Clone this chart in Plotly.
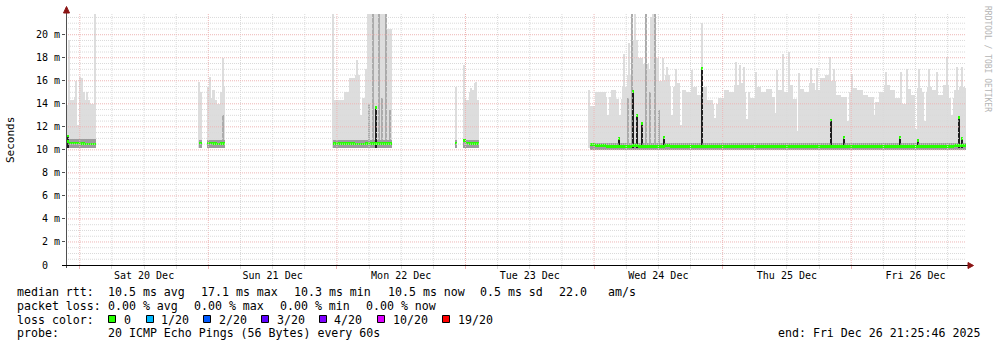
import pandas as pd
import numpy as np
import plotly.graph_objects as go

# ---------------- data ----------------
T_START = "2025-12-19 21:25:46"
T_END = "2025-12-26 21:25:46"

# data segments (periods where the target answered)
seg_start = ["2025-12-19 21:00", "2025-12-20 22:10", "2025-12-20 23:40",
             "2025-12-21 23:20", "2025-12-22 22:05", "2025-12-22 23:35",
             "2025-12-23 23:10"]
seg_bin_min = [60, 35, 30, 60, 20, 30, 60]
seg_low = [10.15, 10.2, 10.15, 10.15, 10.2, 10.15, 9.95]   # fastest ping (ms)
seg_dense = [10.95, 10.85, 10.85, 10.85, 10.85, 10.85, 10.6]  # upper edge of dense smoke (ms)

# upper edge of the smoke (slowest ping, ms) per bin
seg_level = [
    [13.9, 14.3, 14.6, 15.0, 14.3, 14.0],
    [15.0],
    [15.5, 14.5, 15.2, 14.3, 14.0, 15.0, 15.5],
    [14.3, 14.3, 15.0, 16.2, 16.5, 14.5, 17.0, 21.8, 21.8, 21.8, 20.5],
    [15.5],
    [14.5, 14.3, 15.0, 15.2, 15.8, 14.3],
    [13.8, 15.0, 15.0, 14.6, 15.2, 14.4, 15.5, 16.5, 19.5, 18.0,
     17.5, 17.0, 18.0, 16.0, 16.5, 15.5, 15.8, 15.2, 15.0, 15.5,
     14.8, 15.5, 14.3, 14.0, 14.5, 15.2, 15.0, 15.6, 15.8, 15.0,
     14.5, 15.5, 15.0, 15.3, 14.6, 15.2, 15.0, 15.6, 14.4, 15.3,
     15.0, 15.8, 15.2, 16.2, 16.5, 16.0, 14.8, 14.6, 15.0, 15.4,
     15.2, 14.8, 14.6, 14.2, 15.0, 15.6, 15.2, 14.5, 14.0, 15.3,
     14.8, 15.4, 15.0, 15.5, 15.2, 14.8, 15.6, 14.5, 15.2, 15.5,
     15.4],
]

# median rtt (ms) per bin
seg_median = [
    [10.75, 10.6, 10.6, 10.55, 10.5, 10.5],
    [10.6],
    [10.6, 10.6, 10.55, 10.55, 10.5, 10.55, 10.55],
    [10.55, 10.55, 10.55, 10.55, 10.5, 10.5, 10.55, 10.55, 10.55, 10.55, 10.55],
    [10.6],
    [10.8, 10.6, 10.55, 10.55, 10.55, 10.55],
    [10.45, 10.4, 10.35, 10.3, 10.3, 10.3, 10.3, 10.3, 10.35, 10.3,
     10.3, 10.3, 10.3, 10.3, 10.35, 10.3, 10.3, 10.3, 10.3, 10.3,
     10.3, 10.3, 10.3, 10.3, 10.3, 10.3, 10.3, 10.3, 10.3, 10.3,
     10.3, 10.3, 10.3, 10.3, 10.3, 10.3, 10.3, 10.3, 10.3, 10.3,
     10.3, 10.3, 10.3, 10.3, 10.3, 10.3, 10.3, 10.3, 10.3, 10.3,
     10.3, 10.3, 10.3, 10.3, 10.3, 10.3, 10.3, 10.3, 10.3, 10.3,
     10.3, 10.3, 10.3, 10.3, 10.3, 10.3, 10.3, 10.3, 10.35, 10.35,
     10.4],
]

# moments where the slowest ping was much faster (thin gaps in the smoke)
dip_time = ["2025-12-19 23:35", "2025-12-22 04:35", "2025-12-24 02:31", "2025-12-24 04:56",
            "2025-12-24 14:38", "2025-12-24 16:19", "2025-12-24 22:40", "2025-12-25 04:28",
            "2025-12-25 09:53", "2025-12-25 13:59", "2025-12-25 23:19", "2025-12-26 04:21",
            "2025-12-26 12:11", "2025-12-26 13:52", "2025-12-26 18:44"]
dip_value = [12.2, 13.0, 13.0, 13.0, 13.0, 12.2, 12.8, 12.7, 13.2, 11.6, 12.5, 13.0,
             11.8, 12.5, 13.0]

# single slow pings (thin light-grey smoke spikes)
spike_time = ["2025-12-19 22:05", "2025-12-19 23:23", "2025-12-20 00:08", "2025-12-20 00:31",
              "2025-12-20 01:26", "2025-12-20 02:56", "2025-12-20 22:21", "2025-12-21 00:24",
              "2025-12-21 02:44", "2025-12-21 23:22", "2025-12-22 03:40", "2025-12-22 05:54",
              "2025-12-22 06:16", "2025-12-22 23:49", "2025-12-23 01:07", "2025-12-23 02:03",
              "2025-12-23 23:09", "2025-12-24 05:41", "2025-12-24 06:37", "2025-12-24 07:11",
              "2025-12-24 07:44", "2025-12-24 09:47", "2025-12-24 10:43", "2025-12-24 11:06",
              "2025-12-24 11:28", "2025-12-24 12:58", "2025-12-24 13:43", "2025-12-24 15:13",
              "2025-12-24 18:23", "2025-12-24 20:15", "2025-12-25 02:35", "2025-12-25 03:20",
              "2025-12-25 04:05", "2025-12-25 06:19", "2025-12-25 10:15", "2025-12-25 11:22",
              "2025-12-25 12:29", "2025-12-25 14:21", "2025-12-25 16:35", "2025-12-25 17:43",
              "2025-12-25 20:08", "2025-12-25 20:53", "2025-12-26 00:04", "2025-12-26 06:35",
              "2025-12-26 09:23", "2025-12-26 10:31", "2025-12-26 12:45", "2025-12-26 14:37",
              "2025-12-26 16:07", "2025-12-26 17:59", "2025-12-26 19:51", "2025-12-26 20:47"]
spike_value = [19.5, 16.0, 16.3, 16.2, 15.0, 21.8, 15.9, 16.3,
               18.0, 21.8, 17.8, 21.8, 21.8, 17.4, 15.4, 15.9,
               15.2, 18.3, 19.3, 21.8, 21.8, 21.8, 21.5, 21.8,
               21.8, 18.0, 17.2, 17.0, 16.9, 21.0, 17.6, 17.4,
               17.2, 16.8, 16.9, 18.3, 18.5, 16.7, 17.1, 17.1,
               18.1, 17.0, 16.6, 16.8, 16.8, 17.0, 17.0, 17.0,
               16.8, 18.1, 17.2, 17.2]

# denser (darker) smoke columns
dense_time = ["2025-12-21 02:50", "2025-12-22 06:05", "2025-12-22 06:50", "2025-12-22 07:57",
              "2025-12-22 08:31", "2025-12-22 09:15", "2025-12-22 10:00", "2025-12-24 06:27",
              "2025-12-24 07:11", "2025-12-24 09:47", "2025-12-24 10:32", "2025-12-24 11:28",
              "2025-12-24 12:13"]
dense_value = [13.0, 14.0, 21.8, 21.8, 14.5, 21.8, 13.5, 14.5, 21.8, 21.8, 15.0, 21.8, 13.5]

# short median jumps
jump_time = ["2025-12-19 21:54", "2025-12-22 07:23", "2025-12-24 04:45", "2025-12-24 07:22",
             "2025-12-24 08:07", "2025-12-24 09:03", "2025-12-24 13:09", "2025-12-24 20:15",
             "2025-12-25 20:20", "2025-12-25 22:45", "2025-12-26 09:13", "2025-12-26 12:34",
             "2025-12-26 20:13", "2025-12-26 20:47"]
jump_value = [11.2, 13.7, 11.0, 15.1, 13.0, 12.3, 11.1, 17.1, 12.6, 11.1, 11.1, 10.8, 12.8, 11.0]
jump_base = 10.2

y_tick_vals = [0, 2, 4, 6, 8, 10, 12, 14, 16, 18, 20]
y_tick_text = ["0\u00a0\u00a0", "2 m", "4 m", "6 m", "8 m", "10 m", "12 m", "14 m",
               "16 m", "18 m", "20 m"]

loss_labels = ["0", "1/20", "2/20", "3/20", "4/20", "10/20", "19/20"]
loss_colors = ["#26ff00", "#00b8ff", "#0059ff", "#5e00ff", "#7e00ff", "#dd00ff", "#ff0000"]

# ---------------- build bins ----------------
bx, bw, blow, blev, bmed, bden = [], [], [], [], [], []
for s, m, lo, de, lev, med in zip(seg_start, seg_bin_min, seg_low, seg_dense, seg_level, seg_median):
    times = pd.date_range(s, periods=len(lev), freq=f"{m}min")
    for t, l, md in zip(times, lev, med):
        bx.append(t)
        bw.append(m * 60000)
        blow.append(lo)
        blev.append(l)
        bmed.append(md)
        bden.append(de)
blow = np.array(blow); blev = np.array(blev); bmed = np.array(bmed); bden = np.array(bden)

PX_MS = 672000  # about one pixel of time
MED_H = 0.24
TOP = 21.8

fig = go.Figure()
# light smoke
fig.add_trace(go.Bar(x=bx, y=blev - blow, base=blow, width=bw, offset=0,
                     marker=dict(color="#DDDDDD", line=dict(width=0)), hoverinfo="skip"))
# gaps in the smoke
fig.add_trace(go.Bar(x=pd.to_datetime(dip_time), y=TOP - np.array(dip_value), base=dip_value,
                     width=PX_MS * 1.0, marker=dict(color="#FFFFFF", line=dict(width=0)),
                     hoverinfo="skip"))
fig.add_trace(go.Bar(x=pd.to_datetime(spike_time), y=np.array(spike_value) - 10.2, base=10.2,
                     width=PX_MS * 1.1, marker=dict(color="#DDDDDD", line=dict(width=0)),
                     hoverinfo="skip"))
# denser smoke
fig.add_trace(go.Bar(x=pd.to_datetime(dense_time), y=np.array(dense_value) - 10.2, base=10.2,
                     width=PX_MS * 1.3, marker=dict(color="#ABABAB", line=dict(width=0)),
                     hoverinfo="skip"))
fig.add_trace(go.Bar(x=bx, y=bden - blow, base=blow, width=bw, offset=0,
                     marker=dict(color="#9C9C9C", line=dict(width=0)), hoverinfo="skip"))
# median jumps (dense dark column)
fig.add_trace(go.Bar(x=pd.to_datetime(jump_time), y=np.array(jump_value) - jump_base, base=jump_base,
                     width=PX_MS * 1.6, marker=dict(color="#1E1E1E", line=dict(width=0)),
                     hoverinfo="skip"))
# median line (loss colour 0)
fig.add_trace(go.Bar(x=bx, y=[MED_H] * len(bx), base=bmed - MED_H / 2, width=bw, offset=0,
                     marker=dict(color=loss_colors[0], line=dict(width=0)), hoverinfo="skip"))
fig.add_trace(go.Bar(x=pd.to_datetime(jump_time), y=[MED_H] * len(jump_time),
                     base=np.array(jump_value) - MED_H / 2, width=PX_MS * 1.6,
                     marker=dict(color=loss_colors[0], line=dict(width=0)), hoverinfo="skip"))

# ---------------- layout ----------------
L, R, T, B = 66, 31, 14, 82
W, H = 997, 347
MAJ = "#EDB6B6"
MIN = "#DADADA"
MONO = "DejaVu Sans Mono"

shapes = []
# vertical grid (dotted): major at midnight, minor every 6 h
for t in pd.date_range("2025-12-19 00:00", "2025-12-27 00:00", freq="6h"):
    if pd.Timestamp(T_START) < t < pd.Timestamp(T_END):
        shapes.append(dict(type="line", xref="x", yref="paper", x0=t, x1=t, y0=0, y1=1,
                           line=dict(color=MAJ if t.hour == 0 else MIN, width=1, dash="1px,1px"),
                           layer="above"))
# horizontal grid: major every 2 ms, minor every 0.5 ms
for v in np.arange(0.5, 21.8, 0.5):
    shapes.append(dict(type="line", xref="paper", yref="y", x0=0, x1=1, y0=v, y1=v,
                       line=dict(color=MAJ if abs(v % 2) < 1e-9 else MIN, width=1, dash="1px,1px"),
                       layer="above"))


def pix_shape(path, fill, line_color, width=1):
    return dict(type="path", xref="paper", yref="paper", xsizemode="pixel", ysizemode="pixel",
                xanchor=0, yanchor=0, path=path, fillcolor=fill,
                line=dict(color=line_color, width=width), layer="above")


# axis lines and arrows
shapes.append(pix_shape("M 0.5,-3 L 0.5,255", None, "#505050"))
shapes.append(pix_shape("M -4,-0.5 L 903,-0.5", None, "#000000"))
shapes.append(pix_shape("M -2.5,252 L 0.5,258.5 L 3.5,252 Z", "#8B1414", "#8B1414"))
shapes.append(pix_shape("M 902,2.5 L 907.5,-0.5 L 902,-3.5 Z", "#8B1414", "#8B1414"))

# legend boxes
box_x = [108, 146, 203, 261, 319, 377, 442]
lab_x = [123, 160, 218, 276, 333, 392, 457]
for bxp, c in zip(box_x, loss_colors):
    x0 = bxp - L + 0.5
    shapes.append(pix_shape(f"M {x0},{265-315.5} L {x0+7},{265-315.5} L {x0+7},{265-322.5} L {x0},{265-322.5} Z",
                            c, "#000000"))

annotations = []


def txt(s, px, py, anchor="left", size=11.6, color="#000000", angle=0, family=MONO):
    annotations.append(dict(text=s, xref="paper", yref="paper", x=0, y=0,
                            xshift=px - L, yshift=265 - py, xanchor=anchor, yanchor="middle",
                            showarrow=False, textangle=angle, borderpad=0,
                            font=dict(family=family, size=size, color=color)))


# legend text
y1, y2, y3, y4 = 291.5, 305.5, 319.5, 333
txt("median rtt:", 16, y1)
for s, px in [("10.5 ms avg", 107), ("17.1 ms max", 200), ("10.3 ms min", 293),
              ("10.5 ms now", 387), ("0.5 ms sd", 479), ("22.0", 558), ("am/s", 607)]:
    txt(s, px, y1)
txt("packet loss:", 16, y2)
for s, px in [("0.00 % avg", 107), ("0.00 % max", 193), ("0.00 % min", 279), ("0.00 % now", 365)]:
    txt(s, px, y2)
txt("loss color:", 16, y3)
for s, px in zip(loss_labels, lab_x):
    txt(s, px, y3)
txt("probe:", 16, y4)
txt("20 ICMP Echo Pings (56 Bytes) every 60s", 107, y4)
txt("end: Fri Dec 26 21:25:46 2025", 981, y4, anchor="right")

# axis title and watermark
txt("Seconds", 10, 140, anchor="center", size=11, angle=-90)
txt("RRDTOOL / TOBI OETIKER", 988, 59, anchor="center", size=8, color="#B4B4B4", angle=90)

fig.update_layout(
    width=W, height=H, margin=dict(l=L, r=R, t=T, b=B, pad=0),
    paper_bgcolor="white", plot_bgcolor="white",
    barmode="overlay", bargap=0, showlegend=False,
    shapes=shapes, annotations=annotations,
    xaxis=dict(type="date", range=[T_START, T_END], showgrid=False, showline=False, zeroline=False,
               tick0="2025-12-20", dtick=86400000, ticklabelmode="period", tickformat="%a %d %b",
               ticks="outside", ticklen=3, tickcolor=MAJ, tickwidth=1, ticklabelstandoff=-2,
               tickfont=dict(family=MONO, size=10, color="#000000"),
               minor=dict(tick0="2025-12-20", dtick=21600000, ticks="outside", ticklen=3,
                          tickcolor=MIN, showgrid=False),
               fixedrange=True),
    yaxis=dict(range=[0, TOP], tickmode="array", tickvals=y_tick_vals, ticktext=y_tick_text,
               showgrid=False, showline=False, zeroline=False, ticks="outside", ticklen=3,
               tickcolor="#505050", tickfont=dict(family=MONO, size=10, color="#000000"),
               fixedrange=True),
)

fig.write_html("out.html", config={"displayModeBar": False})
